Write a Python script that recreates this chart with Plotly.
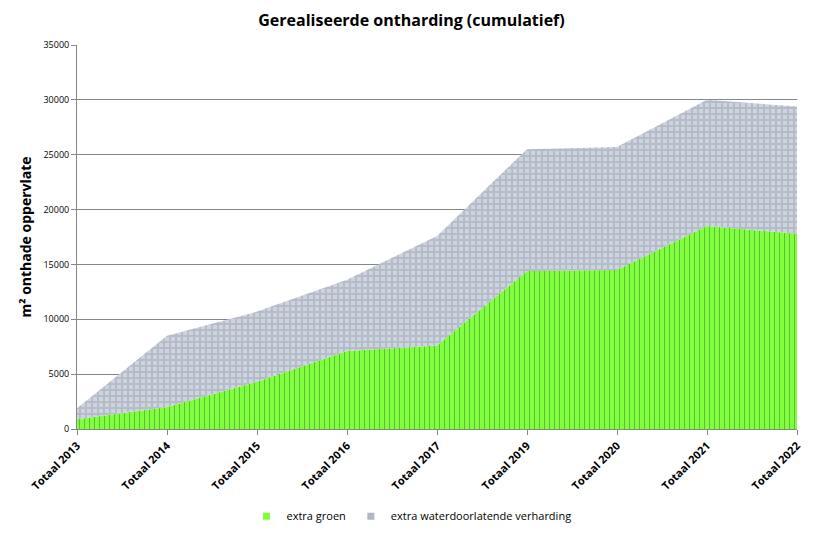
import plotly.graph_objects as go

# Cumulative values (m2) per period
categories = ["Totaal 2013", "Totaal 2014", "Totaal 2015", "Totaal 2016", "Totaal 2017",
              "Totaal 2019", "Totaal 2020", "Totaal 2021", "Totaal 2022"]
extra_groen = [900, 2000, 4300, 7100, 7600, 14400, 14500, 18500, 17800]
extra_verharding = [1000, 6500, 6400, 6500, 10000, 11100, 11200, 11500, 11600]
y_ticks = [0, 5000, 10000, 15000, 20000, 25000, 30000, 35000]

font_family = "Open Sans, Liberation Sans, sans-serif"
green = "#80ff40"
gray = "#c9d0dd"

fig = go.Figure()

# Green area (bottom of the stack)
fig.add_trace(go.Scatter(
    x=categories,
    y=extra_groen,
    name="extra groen",
    mode="lines",
    stackgroup="one",
    showlegend=False,
    line=dict(width=0, color=green),
    fillcolor=green,
    fillpattern=dict(shape="|", fgcolor="#1f4a10", bgcolor=green, fgopacity=0.7,
                     size=5, solidity=0.1),
))

# Gray area on top
fig.add_trace(go.Scatter(
    x=categories,
    y=extra_verharding,
    name="extra waterdoorlatende verharding",
    mode="lines",
    stackgroup="one",
    showlegend=False,
    line=dict(width=0, color=gray),
    fillcolor=gray,
    fillpattern=dict(shape="+", fgcolor="#9ea3ab", bgcolor="#cdd4e1",
                     size=6, solidity=0.55),
))

# Square legend entries like the original
fig.add_trace(go.Scatter(x=[None], y=[None], mode="markers", name="extra groen",
                         marker=dict(symbol="square", size=7, color=green)))
fig.add_trace(go.Scatter(x=[None], y=[None], mode="markers",
                         name="extra waterdoorlatende verharding",
                         marker=dict(symbol="square", size=7, color="#b0b6c2")))

# page body has an 8px margin, so the figure is a bit smaller than the window
fig.update_layout(
    width=807,
    height=525,
    paper_bgcolor="white",
    plot_bgcolor="white",
    margin=dict(l=69, r=18, t=37, b=104),
    title=dict(text="<b>Gerealiseerde ontharding (cumulatief)</b>",
               x=0.5, xanchor="center", y=0.977, yanchor="middle",
               font=dict(family=font_family, size=16, color="black")),
    font=dict(family=font_family, color="black"),
    showlegend=True,
    legend=dict(orientation="h", xref="container", x=0.5, xanchor="center",
                yref="container", y=0.032, yanchor="middle",
                font=dict(size=11, color="black"), traceorder="normal",
                itemwidth=30),
    xaxis=dict(
        type="category",
        range=[0, len(categories) - 1],
        tickangle=-45,
        tickfont=dict(size=11, family=font_family, weight="bold"),
        showgrid=False,
        showline=True,
        linecolor="#868686",
        ticks="outside",
        tickcolor="#868686",
        ticklen=5,
        automargin=False,
    ),
    yaxis=dict(
        range=[0, 35000],
        tickvals=y_ticks,
        ticktext=[str(v) for v in y_ticks],
        tickfont=dict(size=9),
        showgrid=True,
        gridcolor="#868686",
        gridwidth=1,
        showline=True,
        linecolor="#868686",
        ticks="outside",
        tickcolor="#868686",
        ticklen=5,
        zeroline=False,
        automargin=False,
        title=dict(text="<b>m² onthade oppervlate</b>", font=dict(size=14), standoff=8),
    ),
)

fig.write_html("out.html")
